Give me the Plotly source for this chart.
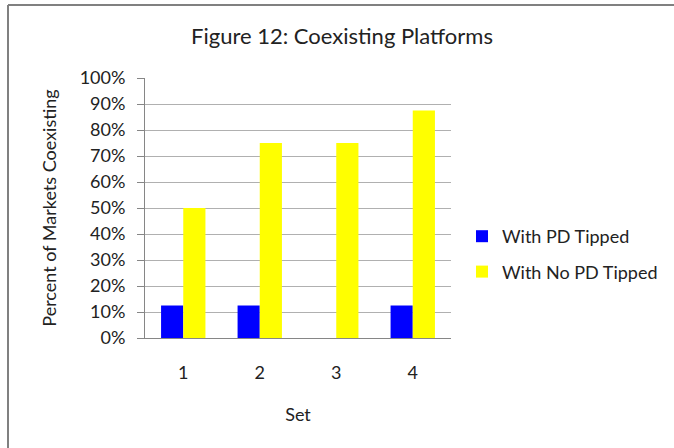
import plotly.graph_objects as go

categories = ["1", "2", "3", "4"]
with_pd_tipped = [0.125, 0.125, 0.0, 0.125]
with_no_pd_tipped = [0.50, 0.75, 0.75, 0.875]
y_ticks = [i / 10 for i in range(11)]
y_tick_labels = [f"{i * 10}%" for i in range(11)]

W, H = 674, 448
L, R, T, B = 145, 223, 78, 110
pw, ph = W - L - R, H - T - B

def px_x(x):
    return (x - L) / pw

def px_y(y):
    return (H - B - y) / ph

font_family = "Lato, Calibri, sans-serif"
text_color = "#222222"

fig = go.Figure()
fig.add_trace(go.Bar(x=categories, y=with_pd_tipped, name="With PD Tipped",
                     marker=dict(color="#0000FF", line=dict(width=0)),
                     legendgroup="a"))
fig.add_trace(go.Bar(x=categories, y=with_no_pd_tipped, name="With No PD Tipped",
                     marker=dict(color="#FFFF00", line=dict(width=0)),
                     legendgroup="b"))

fig.update_layout(
    width=W, height=H,
    margin=dict(l=L, r=R, t=T, b=B, autoexpand=False),
    paper_bgcolor="white", plot_bgcolor="white",
    font=dict(family=font_family, size=18, color=text_color),
    barmode="group", bargap=0.42, bargroupgap=0,
    title=dict(text="Figure 12: Coexisting Platforms", x=342 / W, xanchor="center",
               y=1 - 36 / H, yanchor="middle", font=dict(size=22, color=text_color)),
    showlegend=True,
    legend=dict(x=px_x(462), y=px_y(218), xanchor="left", yanchor="top",
                traceorder="grouped", tracegroupgap=9,
                font=dict(size=18, color=text_color), bgcolor="rgba(0,0,0,0)"),
    xaxis=dict(showline=True, linecolor="#868686", linewidth=1, ticks="",
               showgrid=False, ticklabelstandoff=18,
               title=dict(text="Set", standoff=26, font=dict(size=18))),
    yaxis=dict(range=[0, 1], tickvals=y_ticks, ticktext=y_tick_labels,
               showline=True, linecolor="#868686", linewidth=1,
               ticks="outside", ticklen=7, tickcolor="#868686",
               showgrid=True, gridcolor="#B0B0B0", gridwidth=1,
               zeroline=False, ticklabelstandoff=8,
               title=dict(text="Percent of Markets Coexisting", standoff=18,
                          font=dict(size=18))),
    shapes=[
        dict(type="line", xref="paper", yref="paper",
             x0=px_x(8), x1=px_x(W + 10), y0=px_y(5), y1=px_y(5),
             line=dict(color="#808080", width=2)),
        dict(type="line", xref="paper", yref="paper",
             x0=px_x(8), x1=px_x(8), y0=px_y(5), y1=px_y(H + 10),
             line=dict(color="#808080", width=2)),
    ],
)

fig.write_html("out.html", config={"displayModeBar": False},
               post_script="document.body.style.margin='0';document.body.style.overflow='hidden';")
